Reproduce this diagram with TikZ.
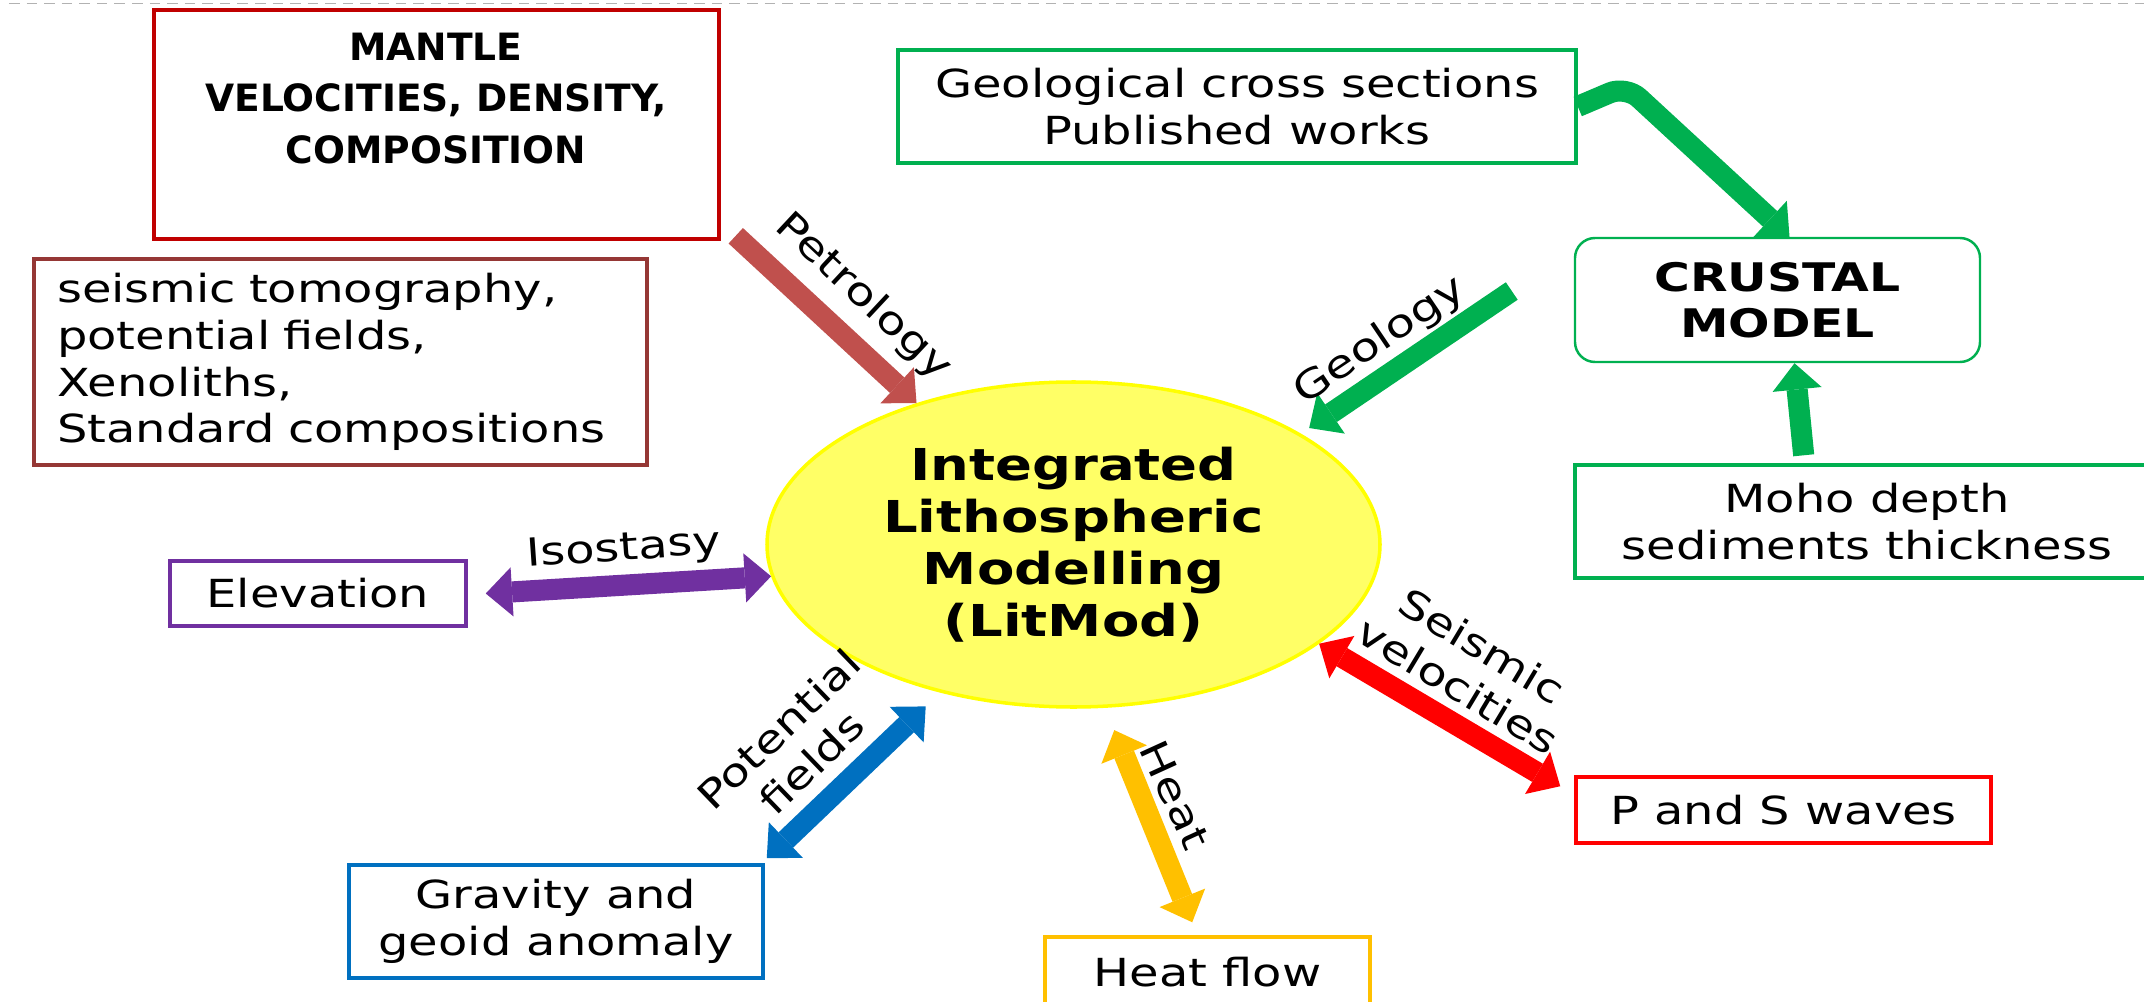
\documentclass[tikz,border=0pt]{standalone}
\usepackage{fontspec}
\setmainfont{DejaVu Sans}[FakeStretch=1.24]
\newfontfamily\mantlefont{DejaVu Sans}
\usepackage{tikz}
\usetikzlibrary{arrows.meta,shapes.geometric,positioning}
\definecolor{mantlered}{HTML}{C00000}
\definecolor{brownbox}{HTML}{953735}
\definecolor{petro}{HTML}{C0504D}
\definecolor{geogreen}{HTML}{00B050}
\definecolor{litfill}{HTML}{FFFF66}
\definecolor{litdraw}{HTML}{FFFF00}
\definecolor{isopurple}{HTML}{7030A0}
\definecolor{potblue}{HTML}{0070C0}
\definecolor{heatorange}{HTML}{FFC000}
\definecolor{seisred}{HTML}{FF0000}
\tikzstyle{box}=[rectangle, draw, line width=1pt, inner sep=0pt, align=center, font=\fontsize{11}{13.3}\selectfont]
\tikzstyle{lbl}=[inner sep=0pt, align=center, font=\fontsize{11}{13.3}\selectfont]
\tikzstyle{flow}=[line width=6pt, -{Triangle[width=14pt,length=7.5pt,line width=0pt]}]
\tikzstyle{both}=[line width=6pt, {Triangle[width=14pt,length=7.5pt,line width=0pt]}-{Triangle[width=14pt,length=7.5pt,line width=0pt]}]
\tikzset{>=latex}

\begin{document}
\begin{tikzpicture}
        \useasboundingbox (0,0) rectangle (21.44,-10.02);
        \clip (0,0) rectangle (21.44,-10.02);
        \draw [gray!60, densely dashed, line width=0.4pt] (0.09,-0.035) -- (21.44,-0.035);

        % Model
        \node at (10.735,-5.445) [ellipse, draw=litdraw, fill=litfill, line width=1pt, minimum width=6.13cm, minimum height=3.25cm, inner sep=0pt, align=center, font=\bfseries\fontsize{12.5}{14.8}\selectfont] (litmod)
        {Integrated\\Lithospheric\\Modelling\\(LitMod)};

        % Mantle
        \node at (4.365,-1.245) [box, draw=mantlered, minimum width=5.65cm, minimum height=2.29cm] (mantle) {};
        \node at (4.36,-0.985) [lbl, font=\mantlefont\bfseries\fontsize{10.7}{14.7}\selectfont] (mantletxt)
        {MANTLE\\VELOCITIES, DENSITY,\\COMPOSITION};
        \node at (0.32,-2.57) [box, anchor=north west, draw=brownbox, line width=1.2pt, inner xsep=0.23cm, text width=5.67cm, minimum height=2.06cm, align=left] (data)
        {seismic tomography,\\potential fields,\\Xenoliths,\\Standard compositions};

        % Crust
        \node at (12.37,-1.065) [box, draw=geogreen, minimum width=6.78cm, minimum height=1.13cm] (geo) {Geological cross sections\\Published works};
        \node at (17.775,-3.00) [box, draw=geogreen, rounded corners=0.2cm, line width=0.7pt, minimum width=4.05cm, minimum height=1.24cm, font=\bfseries\fontsize{11.2}{13.1}\selectfont] (crust) {CRUSTAL\\MODEL};
        \node at (18.67,-5.215) [box, draw=geogreen, minimum width=5.84cm, minimum height=1.13cm] (moho) {Moho depth\\sediments thickness};

        % Observables
        \node at (3.18,-5.935) [box, draw=isopurple, minimum width=2.96cm, minimum height=0.65cm] (elev) {Elevation};
        \node at (5.56,-9.215) [box, draw=potblue, minimum width=4.14cm, minimum height=1.13cm] (grav) {Gravity and\\geoid anomaly};
        \node at (12.075,-9.72) [box, draw=heatorange, minimum width=3.25cm, minimum height=0.70cm] (heat) {Heat flow};
        \node at (17.835,-8.10) [box, draw=seisred, minimum width=4.15cm, minimum height=0.66cm] (waves) {P and S waves};

        % Mantle -> Model
        \draw [flow, petro] ([xshift=1.5mm,yshift=0.5mm]mantle.south east) -- (litmod.138);
        \node at (8.63,-2.97) [lbl, rotate=-43] (petlbl) {Petrology};

        % Crust -> Model
        \coordinate (bend) at (16.26,-0.86);
        \draw [flow, geogreen, rounded corners=5pt] (geo.east) -- (bend) -- ([xshift=1.2mm]crust.north);
        \draw [flow, geogreen, shorten <=0.8mm] ([xshift=2.7mm]crust.south |- moho.north) -- ([xshift=1.7mm]crust.south);
        \draw [flow, geogreen, shorten >=1mm] ([xshift=-6.2mm,yshift=0.9mm]crust.west) -- (litmod.26);
        \node at (13.80,-3.41) [lbl, rotate=34] (geolbl) {Geology};

        % Model <-> Observables
        \draw [both, isopurple] ([xshift=1.8mm]elev.east) -- (litmod.186);
        \node at (6.24,-5.50) [lbl, rotate=4] (isolbl) {Isostasy};
        \draw [both, potblue, shorten >=2mm] ([xshift=0.2mm,yshift=0.5mm]grav.north east) -- (litmod.228);
        \node at (7.95,-7.46) [lbl, rotate=44] (potlbl) {Potential\\fields};
        \draw [both, heatorange, shorten <=2.4mm, shorten >=1.4mm] (litmod.281) -- ([xshift=-1mm]heat.north);
        \node at (11.75,-7.95) [lbl, rotate=-65.5] (heatlbl) {Heat};
        \draw [both, seisred] (litmod.338) -- ([xshift=-1.4mm,yshift=-1.1mm]waves.north west);
        \node at (14.70,-6.66) [lbl, rotate=-31] (seislbl) {Seismic\\velocities};
      \end{tikzpicture}
\end{document}
